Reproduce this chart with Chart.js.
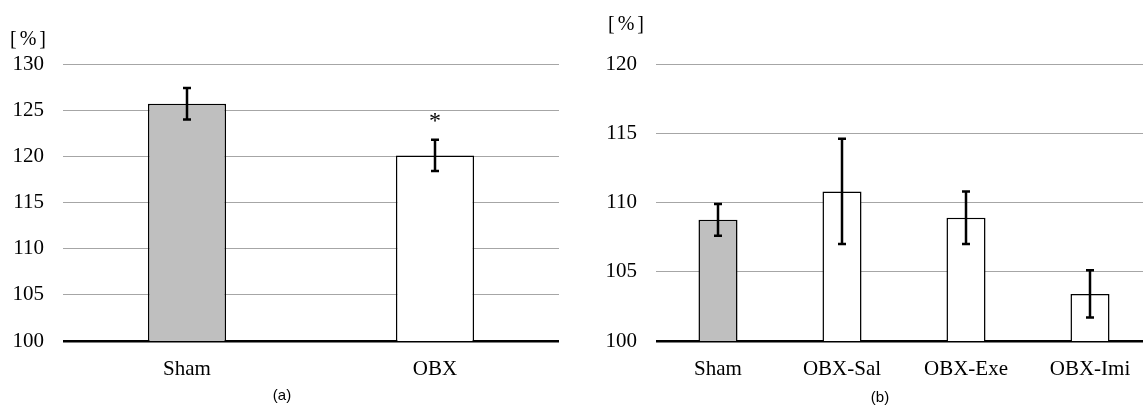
<!DOCTYPE html>
<html>
<head>
<meta charset="utf-8">
<script src="https://cdn.jsdelivr.net/npm/chart.js@4/dist/chart.umd.min.js"></script>
<style>
  html, body { margin: 0; padding: 0; background: #fff; overflow: hidden; }
  #wrap { position: relative; width: 1143px; height: 405px; overflow: hidden; }
  canvas { position: absolute; top: 0; }
  #chart-a { left: 0; }
  #chart-b { left: 570px; }
  .unit { position: absolute; font: 20px 'Liberation Serif', serif; letter-spacing: 3px; line-height: 20px; color: #000; }
  .cap { position: absolute; font: 15px 'Liberation Sans', Arial, sans-serif; line-height: 16px; color: #000; transform: translateX(-50%); }
</style>
</head>
<body>
<div id="wrap">
  <canvas id="chart-a" width="559" height="405"></canvas>
  <canvas id="chart-b" width="582" height="405"></canvas>
  <div class="unit" style="left:10px;top:28px">[%]</div>
  <div class="unit" style="left:608px;top:13px">[%]</div>
  <div class="cap" style="left:282px;top:387px">(a)</div>
  <div class="cap" style="left:880px;top:389px">(b)</div>
</div>
<script>
// ── Data ─────────────────────────────────────────────────────────────
const labelsA = ['Sham', 'OBX'];
const meansA  = [125.7, 120.1];
const errA    = [1.7, 1.7];
const starsA  = ['', '*'];

const labelsB = ['Sham', 'OBX-Sal', 'OBX-Exe', 'OBX-Imi'];
const meansB  = [108.75, 110.8, 108.9, 103.4];
const errB    = [1.15, 3.8, 1.9, 1.7];
const starsB  = ['', '', '', ''];

const SHAM_FILL = '#bfbfbf';
const serif = "'Liberation Serif', 'Times New Roman', serif";

// ── Error bars + significance marks ──────────────────────────────────
const errorBars = {
  id: 'errorBars',
  afterDatasetsDraw(chart, args, opts) {
    const { ctx } = chart;
    const y = chart.scales.y;
    const meta = chart.getDatasetMeta(0);
    const vals = chart.data.datasets[0].data;
    ctx.save();
    ctx.strokeStyle = '#000';
    ctx.lineWidth = 2.5;
    opts.err.forEach((e, i) => {
      const cx = meta.data[i].x;
      const top = y.getPixelForValue(vals[i] + e);
      const bot = y.getPixelForValue(vals[i] - e);
      ctx.beginPath();
      ctx.moveTo(cx, top); ctx.lineTo(cx, bot);
      ctx.moveTo(cx - 4, top); ctx.lineTo(cx + 4, top);
      ctx.moveTo(cx - 4, bot); ctx.lineTo(cx + 4, bot);
      ctx.stroke();
      if (opts.stars && opts.stars[i]) {
        ctx.fillStyle = '#000';
        ctx.font = '24px ' + serif;
        ctx.textAlign = 'center';
        ctx.textBaseline = 'alphabetic';
        ctx.fillText(opts.stars[i], cx, top - 12);
      }
    });
    ctx.restore();
  }
};

function makeChart(id, labels, means, err, stars, max, yWidth) {
  return new Chart(document.getElementById(id), {
    type: 'bar',
    data: {
      labels,
      datasets: [{
        data: means,
        backgroundColor: labels.map((l, i) => i === 0 ? SHAM_FILL : '#ffffff'),
        borderColor: '#000',
        borderWidth: 1.5,
        barPercentage: 0.315,
        categoryPercentage: 1
      }]
    },
    plugins: [errorBars],
    options: {
      responsive: false,
      animation: false,
      layout: { padding: { top: 64, left: 0, right: 0, bottom: 0 } },
      plugins: {
        legend: { display: false },
        tooltip: { enabled: false },
        errorBars: { err, stars }
      },
      scales: {
        x: {
          grid: { display: false },
          border: { display: false },
          ticks: { color: '#000', font: { family: serif, size: 21 }, padding: 8 },
          afterFit: s => { s.height = 64; }
        },
        y: {
          min: 100,
          max,
          ticks: { stepSize: 5, color: '#000', font: { family: serif, size: 21 }, padding: 19 },
          grid: {
            drawTicks: false,
            color: c => c.tick.value === 100 ? '#000' : '#a6a6a6',
            lineWidth: c => c.tick.value === 100 ? 2.5 : 1
          },
          border: { display: false },
          afterFit: s => { s.width = yWidth; }
        }
      }
    }
  });
}

makeChart('chart-a', labelsA, meansA, errA, starsA, 130, 63);
makeChart('chart-b', labelsB, meansB, errB, starsB, 120, 86);
</script>
</body>
</html>
